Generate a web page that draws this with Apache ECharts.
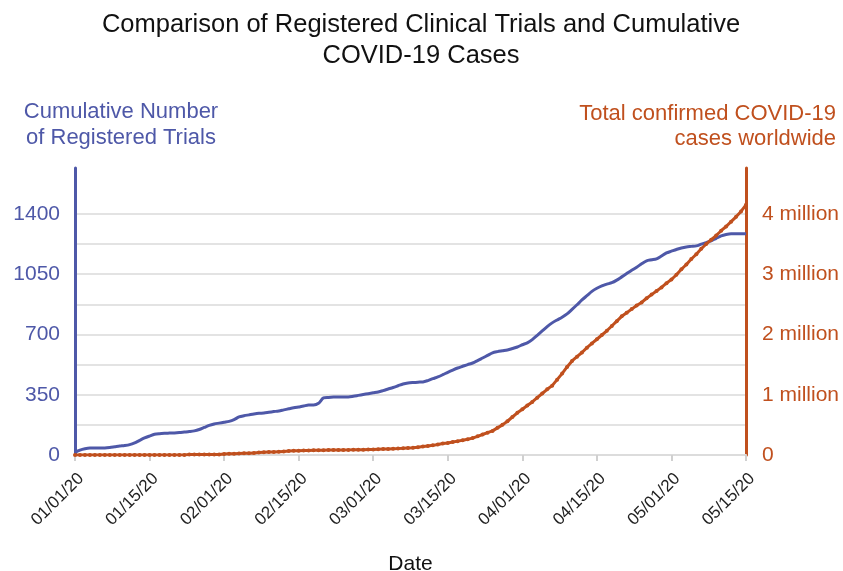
<!DOCTYPE html>
<html>
<head>
<meta charset="utf-8">
<script src="https://cdn.jsdelivr.net/npm/echarts@6/dist/echarts.min.js"></script>
<style>
  html, body { margin: 0; padding: 0; background: #fff; }
  #main { width: 843px; height: 571px; }
</style>
</head>
<body>
<div id="main"></div>
<script>
// trials (left axis) and confirmed cases in millions (right axis), one value per day
var trials = [
  15, 28, 36, 40, 40, 40, 41, 44, 48, 52,
  55, 60, 70, 85, 99, 110, 120, 124, 126, 127,
  128, 130, 133, 136, 140, 148, 160, 172, 180, 185,
  190, 195, 205, 221, 228, 233, 238, 242, 244, 248,
  252, 256, 262, 268, 274, 279, 284, 290, 290, 300,
  331, 334, 336, 337, 337, 337, 341, 346, 351, 356,
  361, 366, 374, 383, 392, 402, 412, 418, 421, 423,
  424, 432, 443, 453, 466, 480, 493, 505, 515, 525,
  534, 548, 563, 578, 593, 600, 605, 610, 618, 627,
  640, 651, 670, 695, 720, 745, 767, 784, 800, 819,
  845, 872, 900, 925, 950, 968, 982, 992, 1000, 1015,
  1034, 1053, 1072, 1090, 1110, 1127, 1133, 1139, 1155, 1173,
  1183, 1193, 1202, 1208, 1211, 1214, 1224, 1233, 1243, 1258,
  1272, 1280, 1284, 1284, 1285, 1285
];
var cases = [
  0, 0, 0, 0, 0, 0, 0, 0, 0, 0,
  0, 0, 0, 0, 0, 0, 0, 0, 0, 0,
  0, 0, 0, 0.01, 0.01, 0.01, 0.01, 0.01, 0.01, 0.01,
  0.015, 0.02, 0.02, 0.025, 0.03, 0.03, 0.035, 0.04, 0.045, 0.05,
  0.05, 0.055, 0.06, 0.065, 0.07, 0.072, 0.074, 0.076, 0.078, 0.08,
  0.08, 0.081, 0.082, 0.083, 0.084, 0.085, 0.086, 0.087, 0.088, 0.09,
  0.092, 0.095, 0.098, 0.1, 0.103, 0.106, 0.11, 0.115, 0.12, 0.13,
  0.14, 0.15, 0.16, 0.175, 0.19, 0.2, 0.215, 0.23, 0.245, 0.26,
  0.28, 0.31, 0.34, 0.37, 0.4, 0.45, 0.5, 0.56, 0.63, 0.7,
  0.76, 0.82, 0.88, 0.95, 1.02, 1.09, 1.15, 1.25, 1.35, 1.46,
  1.56, 1.63, 1.70, 1.78, 1.85, 1.92, 1.99, 2.06, 2.14, 2.22,
  2.3, 2.36, 2.42, 2.48, 2.53, 2.6, 2.66, 2.72, 2.78, 2.85,
  2.91, 2.99, 3.08, 3.16, 3.25, 3.33, 3.42, 3.5, 3.57, 3.64,
  3.72, 3.79, 3.87, 3.95, 4.04, 4.15
];
var tickLabels = ['01/01/20','01/15/20','02/01/20','02/15/20','03/01/20',
                  '03/15/20','04/01/20','04/15/20','05/01/20','05/15/20'];

var days = [];
for (var i = 0; i < trials.length; i++) {
  var d = new Date(2020, 0, 1 + i);
  days.push(('0' + (d.getMonth() + 1)).slice(-2) + '/' + ('0' + d.getDate()).slice(-2) + '/20');
}

var BLUE = '#4e58a8', ORANGE = '#c0501e';
var FONT = '"Liberation Sans", Arial, sans-serif';
var every15 = function (idx) { return idx % 15 === 0; };
var gridColors = ['#e3e3e3','#e3e3e3','#e3e3e3','#e3e3e3','#e3e3e3','#e3e3e3','#e3e3e3','#e3e3e3','#e3e3e3','transparent','transparent'];

var chart = echarts.init(document.getElementById('main'));
chart.setOption({
  animation: false,
  textStyle: { fontFamily: FONT },
  title: [
    { text: 'Comparison of Registered Clinical Trials and Cumulative\nCOVID-19 Cases',
      left: 416, top: 4, textAlign: 'center',
      textStyle: { fontSize: 25.5, fontWeight: 'normal', color: '#111', lineHeight: 31, fontFamily: FONT } },
    { text: 'Cumulative Number\nof Registered Trials',
      left: 116, top: 94, textAlign: 'center',
      textStyle: { fontSize: 22, fontWeight: 'normal', color: BLUE, lineHeight: 26, fontFamily: FONT } },
    { text: 'Total confirmed COVID-19\ncases worldwide',
      left: 831, top: 96, textAlign: 'right',
      textStyle: { fontSize: 22, fontWeight: 'normal', color: ORANGE, lineHeight: 25, fontFamily: FONT } }
  ],
  grid: { left: 75, right: 97, top: 168, bottom: 116, containLabel: false, outerBoundsMode: 'none' },
  xAxis: {
    type: 'category',
    data: days,
    boundaryGap: false,
    name: 'Date',
    nameLocation: 'middle',
    nameGap: 99,
    nameTextStyle: { fontSize: 21, color: '#111' },
    axisLine: { lineStyle: { color: '#dcdcdc', width: 2 } },
    axisTick: { interval: every15, length: 6, lineStyle: { color: '#d0d0d0', width: 2 } },
    axisLabel: {
      interval: every15, rotate: 45, fontSize: 17, color: '#222', margin: 15, verticalAlign: 'top',
      formatter: function (v, idx) { return tickLabels[idx / 15] || ''; }
    },
    splitLine: { show: false }
  },
  yAxis: [
    {
      type: 'value', min: 0, max: 1666, interval: 175, position: 'left',
      axisLine: { show: true, lineStyle: { color: BLUE, width: 3 } },
      axisTick: { show: false },
      axisLabel: { fontSize: 21, color: BLUE, margin: 15,
        formatter: function (v) { return v % 350 === 0 ? String(v) : ''; } },
      splitLine: { show: true, lineStyle: { color: gridColors, width: 2 } }
    },
    {
      type: 'value', min: 0, max: 4.76, interval: 1, position: 'right',
      axisLine: { show: true, lineStyle: { color: ORANGE, width: 3 } },
      axisTick: { show: false },
      axisLabel: { fontSize: 21, color: ORANGE, margin: 16,
        formatter: function (v) { return v === 0 ? '0' : (Math.abs(v - Math.round(v)) < 1e-6 ? Math.round(v) + ' million' : ''); } },
      splitLine: { show: false }
    }
  ],
  series: [
    { name: 'Trials', type: 'line', yAxisIndex: 0, data: trials,
      smooth: 0.3, showSymbol: false,
      lineStyle: { color: BLUE, width: 3 }, itemStyle: { color: BLUE } },
    { name: 'Cases', type: 'line', yAxisIndex: 1, data: cases,
      symbol: 'circle', symbolSize: 4, showSymbol: true, showAllSymbol: true,
      lineStyle: { color: ORANGE, width: 3 }, itemStyle: { color: ORANGE } }
  ]
});
</script>
</body>
</html>
